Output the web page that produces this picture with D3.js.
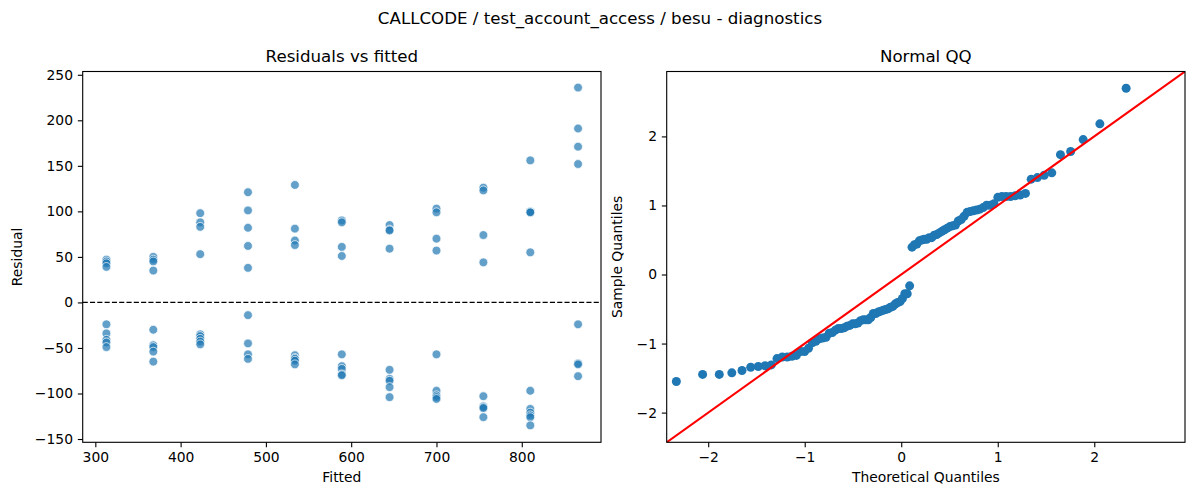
<!DOCTYPE html>
<html>
<head>
<meta charset="utf-8">
<script src="https://cdn.jsdelivr.net/npm/d3@7"></script>
<style>
  body { margin: 0; background: #fff; }
  svg text { font-family: "DejaVu Sans", sans-serif; fill: #000; }
</style>
</head>
<body>
<div id="chart"></div>
<script>
// fitted levels (x of the left panel)
const fittedValues = [313, 368, 423, 479, 534, 589, 645, 700, 755, 810, 866];

// residuals, one list per fitted level
const residualsByFitted = [
  [47, 45, 43, 39, -24, -34, -41, -44, -49],
  [50, 47, 45, 35, -30, -47, -49, -54, -65],
  [98, 88, 83, 53, -35, -37, -40, -43, -46],
  [121, 101, 82, 62, 38, -14, -45, -57, -62],
  [129, 81, 68, 63, -58, -61, -62, -64, -68],
  [90, 88, 61, 51, -57, -70, -73, -79, -80],
  [85, 80, 79, 59, -74, -84, -86, -93, -104],
  [103, 99, 70, 57, -57, -97, -102, -104, -106],
  [126, 123, 74, 44, -103, -114, -115, -116, -126],
  [156, 100, 99, 99, 55, -97, -117, -121, -124, -126, -135],
  [236, 191, 171, 152, -24, -67, -68, -81]
];

const fittedTicks = [300, 400, 500, 600, 700, 800];
const residualTicks = [-150, -100, -50, 0, 50, 100, 150, 200, 250];
const qqTicks = [-2, -1, 0, 1, 2];

const suptitle = 'CALLCODE / test_account_access / besu - diagnostics';

const W = 1200, H = 500;
const PT = 100 / 72; // matplotlib points -> px
const blue = '#1f77b4';

const svg = d3.select('#chart').append('svg')
  .attr('width', W)
  .attr('height', H);

svg.append('text')
  .attr('x', 600).attr('y', 24)
  .attr('text-anchor', 'middle')
  .attr('font-size', 12 * PT)
  .text(suptitle);

// panel boxes
const left = { x0: 82.7, x1: 601, y0: 71.5, y1: 442.3 };
const right = { x0: 666.7, x1: 1185, y0: 71.5, y1: 442.3 };

function styleAxis(g) {
  g.select('.domain').remove();
  g.selectAll('.tick line').attr('stroke', '#000').attr('stroke-width', 0.8 * PT);
  g.selectAll('.tick text')
    .attr('font-size', 10 * PT)
    .attr('font-family', '"DejaVu Sans", sans-serif')
    .attr('fill', '#000');
}

function drawFrame(box) {
  svg.append('rect')
    .attr('x', box.x0).attr('y', box.y0)
    .attr('width', box.x1 - box.x0).attr('height', box.y1 - box.y0)
    .attr('fill', 'none').attr('stroke', '#000').attr('stroke-width', 0.8 * PT);
}

function titles(box, title, xlab, ylab, ylabX) {
  const cx = (box.x0 + box.x1) / 2;
  svg.append('text').attr('x', cx).attr('y', 62)
    .attr('text-anchor', 'middle').attr('font-size', 12 * PT).text(title);
  svg.append('text').attr('x', cx).attr('y', 482)
    .attr('text-anchor', 'middle').attr('font-size', 10 * PT).text(xlab);
  svg.append('text')
    .attr('transform', `translate(${ylabX},${(box.y0 + box.y1) / 2}) rotate(-90)`)
    .attr('text-anchor', 'middle').attr('font-size', 10 * PT).text(ylab);
}

// ---- Residuals vs fitted ----
const x1 = d3.scaleLinear().domain([285.2, 892.9]).range([left.x0, left.x1]);
const y1 = d3.scaleLinear().domain([-153.6, 253.6]).range([left.y1, left.y0]);

const points = [];
fittedValues.forEach((f, i) => {
  residualsByFitted[i].forEach(r => points.push({ fitted: f, resid: r }));
});

svg.append('g')
  .attr('transform', `translate(0,${left.y1})`)
  .call(d3.axisBottom(x1).tickValues(fittedTicks).tickSize(3.5 * PT).tickPadding(3.5 * PT).tickSizeOuter(0))
  .call(styleAxis);
svg.append('g')
  .attr('transform', `translate(${left.x0},0)`)
  .call(d3.axisLeft(y1).tickValues(residualTicks).tickSize(3.5 * PT).tickPadding(3.5 * PT).tickSizeOuter(0))
  .call(styleAxis);

svg.append('g')
  .selectAll('circle')
  .data(points)
  .enter().append('circle')
  .attr('cx', d => x1(d.fitted))
  .attr('cy', d => y1(d.resid))
  .attr('r', 4.4)
  .attr('fill', blue)
  .attr('fill-opacity', 0.7)
  .attr('stroke', '#fff')
  .attr('stroke-width', 0.7);

svg.append('line')
  .attr('x1', left.x0).attr('x2', left.x1)
  .attr('y1', y1(0)).attr('y2', y1(0))
  .attr('stroke', '#000').attr('stroke-width', 1 * PT)
  .attr('stroke-dasharray', '5.1,2.2');

drawFrame(left);
titles(left, 'Residuals vs fitted', 'Fitted', 'Residual', 22);

// ---- Normal QQ ----
// inverse normal cdf (Acklam)
function normInv(p) {
  const a = [-3.969683028665376e+01, 2.209460984245205e+02, -2.759285104469687e+02, 1.383577518672690e+02, -3.066479806614716e+01, 2.506628277459239e+00];
  const b = [-5.447609879822406e+01, 1.615858368580409e+02, -1.556989798598866e+02, 6.680131188771972e+01, -1.328068155288572e+01];
  const c = [-7.784894002430293e-03, -3.223964580411365e-01, -2.400758277161838e+00, -2.549732539343734e+00, 4.374664141464968e+00, 2.938163982698783e+00];
  const d = [7.784695709041462e-03, 3.224671290700398e-01, 2.445134137142996e+00, 3.754408661907416e+00];
  const pl = 0.02425;
  let q, r;
  if (p < pl) {
    q = Math.sqrt(-2 * Math.log(p));
    return (((((c[0] * q + c[1]) * q + c[2]) * q + c[3]) * q + c[4]) * q + c[5]) / ((((d[0] * q + d[1]) * q + d[2]) * q + d[3]) * q + 1);
  }
  if (p > 1 - pl) {
    q = Math.sqrt(-2 * Math.log(1 - p));
    return -(((((c[0] * q + c[1]) * q + c[2]) * q + c[3]) * q + c[4]) * q + c[5]) / ((((d[0] * q + d[1]) * q + d[2]) * q + d[3]) * q + 1);
  }
  q = p - 0.5; r = q * q;
  return (((((a[0] * r + a[1]) * r + a[2]) * r + a[3]) * r + a[4]) * r + a[5]) * q / (((((b[0] * r + b[1]) * r + b[2]) * r + b[3]) * r + b[4]) * r + 1);
}

const resid = points.map(d => d.resid);
const n = resid.length;
const mu = d3.mean(resid);
const sd = Math.sqrt(d3.sum(resid, r => (r - mu) * (r - mu)) / n);
const sorted = resid.map(r => (r - mu) / sd).sort(d3.ascending);
const qq = sorted.map((s, i) => ({ theo: normInv((i + 1) / (n + 1)), sample: s }));

const lim = [-2.43, 2.94];
const x2 = d3.scaleLinear().domain(lim).range([right.x0, right.x1]);
const y2 = d3.scaleLinear().domain(lim).range([right.y1, right.y0]);

svg.append('g')
  .attr('transform', `translate(0,${right.y1})`)
  .call(d3.axisBottom(x2).tickValues(qqTicks).tickFormat(d3.format('d')).tickSize(3.5 * PT).tickPadding(3.5 * PT).tickSizeOuter(0))
  .call(styleAxis);
svg.append('g')
  .attr('transform', `translate(${right.x0},0)`)
  .call(d3.axisLeft(y2).tickValues(qqTicks).tickFormat(d3.format('d')).tickSize(3.5 * PT).tickPadding(3.5 * PT).tickSizeOuter(0))
  .call(styleAxis);

svg.append('clipPath').attr('id', 'qqclip')
  .append('rect')
  .attr('x', right.x0).attr('y', right.y0)
  .attr('width', right.x1 - right.x0).attr('height', right.y1 - right.y0);

const qg = svg.append('g').attr('clip-path', 'url(#qqclip)');

qg.selectAll('circle')
  .data(qq)
  .enter().append('circle')
  .attr('cx', d => x2(d.theo))
  .attr('cy', d => y2(d.sample))
  .attr('r', 4.5)
  .attr('fill', blue);

qg.append('line')
  .attr('x1', x2(lim[0])).attr('y1', y2(lim[0]))
  .attr('x2', x2(lim[1])).attr('y2', y2(lim[1]))
  .attr('stroke', 'red').attr('stroke-width', 1.5 * PT);

drawFrame(right);
titles(right, 'Normal QQ', 'Theoretical Quantiles', 'Sample Quantiles', 622);
</script>
</body>
</html>
